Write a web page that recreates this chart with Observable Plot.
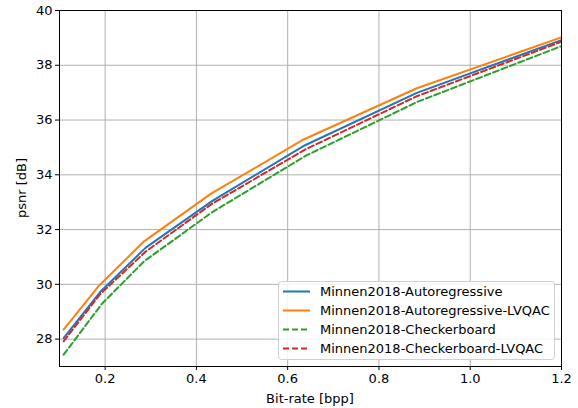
<!DOCTYPE html>
<html>
<head>
<meta charset="utf-8">
<script src="https://cdn.jsdelivr.net/npm/d3@7"></script>
<script src="https://cdn.jsdelivr.net/npm/@observablehq/plot@0.6"></script>
<style>
  html, body { margin: 0; padding: 0; background: #fff; }
  #chart { position: relative; width: 578px; height: 408px; }
  svg { font-family: "DejaVu Sans", sans-serif; }
</style>
</head>
<body>
<div id="chart"></div>
<script>
// ---- data ----
const seriesNames = [
  "Minnen2018-Autoregressive",
  "Minnen2018-Autoregressive-LVQAC",
  "Minnen2018-Checkerboard",
  "Minnen2018-Checkerboard-LVQAC"
];
const arBpp = [0.109, 0.189, 0.289, 0.435, 0.638, 0.883, 1.2];
const arPsnr = [28.04, 29.72, 31.34, 33.05, 35.08, 36.99, 38.92];
const arLvqacBpp = [0.109, 0.187, 0.286, 0.433, 0.635, 0.883, 1.2];
const arLvqacPsnr = [28.35, 29.96, 31.58, 33.32, 35.29, 37.16, 39.02];
const cbBpp = [0.109, 0.193, 0.286, 0.435, 0.640, 0.885, 1.2];
const cbPsnr = [27.43, 29.29, 30.85, 32.64, 34.70, 36.67, 38.70];
const cbLvqacBpp = [0.109, 0.189, 0.289, 0.435, 0.638, 0.883, 1.2];
const cbLvqacPsnr = [27.92, 29.64, 31.20, 32.95, 34.92, 36.87, 38.86];
const xTicks = [0.2, 0.4, 0.6, 0.8, 1.0, 1.2];
const yTicks = [28, 30, 32, 34, 36, 38, 40];
const colors = ["#1f77b4", "#ff7f0e", "#2ca02c", "#d62728"];
const dashes = [null, null, "6,3", "6,3"];

const xs = [arBpp, arLvqacBpp, cbBpp, cbLvqacBpp];
const ys = [arPsnr, arLvqacPsnr, cbPsnr, cbLvqacPsnr];
const rows = [];
seriesNames.forEach((s, i) => xs[i].forEach((x, j) => rows.push({series: s, bpp: x, psnr: ys[i][j]})));

const W = 578, H = 408;
const mL = 59, mR = 17, mT = 10, mB = 42;
const fs = 13;

const lineMarks = seriesNames.map((s, i) =>
  Plot.line(rows.filter(d => d.series === s), {
    x: "bpp", y: "psnr",
    stroke: colors[i], strokeWidth: 2,
    strokeDasharray: dashes[i] || undefined,
    clip: true
  })
);

const plot = Plot.plot({
  width: W, height: H,
  marginLeft: mL, marginRight: mR, marginTop: mT, marginBottom: mB,
  style: {fontFamily: "DejaVu Sans, sans-serif", fontSize: fs + "px", background: "#fff"},
  x: {domain: [0.1, 1.2]},
  y: {domain: [27.0, 40]},
  marks: [
    Plot.gridX(xTicks, {stroke: "#b0b0b0", strokeOpacity: 1, strokeWidth: 1}),
    Plot.gridY(yTicks, {stroke: "#b0b0b0", strokeOpacity: 1, strokeWidth: 1}),
    ...lineMarks,
    Plot.frame({stroke: "#000", strokeWidth: 1}),
    Plot.axisX(xTicks, {tickSize: 4, tickPadding: 3, tickFormat: d3.format(".1f"), label: null, fontSize: fs, fill: "#000", stroke: "#000"}),
    Plot.axisY(yTicks, {tickSize: 4, tickPadding: 3, label: null, fontSize: fs, fill: "#000", stroke: "#000"})
  ]
});

document.getElementById("chart").appendChild(plot);

// axis labels and legend
const svg = d3.select(plot);
svg.append("text")
  .attr("x", (mL + (W - mR)) / 2).attr("y", 403)
  .attr("text-anchor", "middle").attr("font-size", fs).attr("fill", "#000")
  .text("Bit-rate [bpp]");
svg.append("text")
  .attr("transform", `translate(26,${(mT + H - mB) / 2}) rotate(-90)`)
  .attr("text-anchor", "middle").attr("font-size", fs).attr("fill", "#000")
  .text("psnr [dB]");

const lg = svg.append("g").attr("transform", "translate(278,281)").attr("text-anchor", "start");
lg.append("rect").attr("x", 0.5).attr("y", 0.5).attr("width", 276).attr("height", 78)
  .attr("rx", 3).attr("fill", "#fff").attr("fill-opacity", 0.85)
  .attr("stroke", "#d0d0d0").attr("stroke-width", 1);
seriesNames.forEach((s, i) => {
  const cy = 10.5 + i * 19;
  lg.append("line").attr("x1", 5).attr("x2", 32).attr("y1", cy).attr("y2", cy)
    .attr("stroke", colors[i]).attr("stroke-width", 2)
    .attr("stroke-dasharray", dashes[i] || null);
  lg.append("text").attr("x", 42).attr("y", cy).attr("dy", "0.35em")
    .attr("text-anchor", "start")
    .attr("font-size", fs).attr("fill", "#000").text(s);
});
</script>
</body>
</html>
